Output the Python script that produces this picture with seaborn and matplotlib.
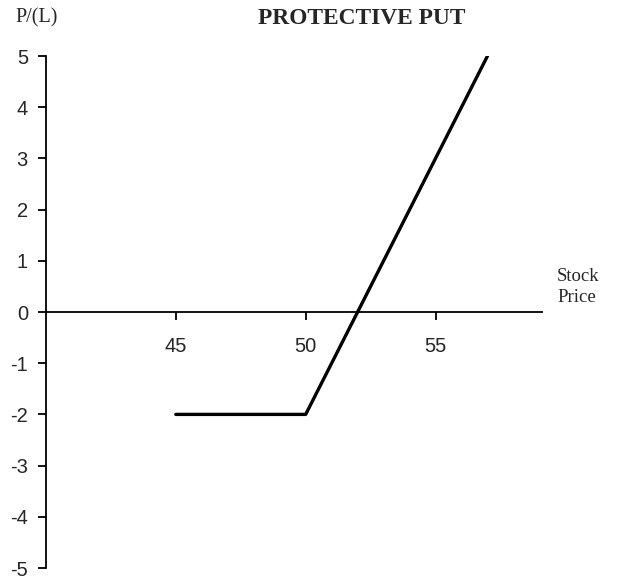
import matplotlib
matplotlib.use("Agg")
import matplotlib.pyplot as plt
import seaborn as sns
import pandas as pd

stock_price = [45, 50, 57]
profit_loss = [-2, -2, 5]
x_ticks = [45, 50, 55]
y_ticks = [5, 4, 3, 2, 1, 0, -1, -2, -3, -4, -5]

sns.set_theme(style="white")
plt.rcParams['font.family'] = ['Liberation Sans', 'DejaVu Sans']

df = pd.DataFrame({"Stock Price": stock_price, "P/L": profit_loss})

fig = plt.figure(figsize=(6.18, 5.79), dpi=100)
ax = fig.add_axes([46/618, 11/579, (542-46)/618, (568-56)/579])
sns.lineplot(data=df, x="Stock Price", y="P/L", ax=ax, color="black", linewidth=2.4, sort=False)

ax.set_xlim(40, 59.1)
ax.set_ylim(-5, 5)
ax.spines['right'].set_visible(False)
ax.spines['top'].set_visible(False)
ax.spines['bottom'].set_position(('data', 0))
ax.spines['left'].set_position(('data', 40))
for s in ['left', 'bottom']:
    ax.spines[s].set_color('black')
    ax.spines[s].set_linewidth(1.3)

ax.set_xticks(x_ticks)
ax.set_xticklabels([str(v) for v in x_ticks])
ax.set_yticks(y_ticks)
ax.set_yticklabels([str(v) for v in y_ticks])
ax.tick_params(axis='x', direction='out', length=6, width=1.3, color='black', labelsize=14.5, pad=12, bottom=True)
ax.tick_params(axis='y', direction='out', length=6, width=1.3, color='black', labelsize=14.5, pad=7, left=True)
ax.set_xlabel("")
ax.set_ylabel("")

fig.text(258/618, 1 - 18/579, "PROTECTIVE PUT", family='Liberation Serif', fontweight='bold',
         fontsize=16.8, ha='left', va='center')
fig.text(15/618, 1 - 18/579, "P/(L)", family='Liberation Serif', fontsize=14.5, ha='left', va='center')
fig.text(557/618, 1 - 287/579, "Stock\nPrice", family='Liberation Serif', fontsize=13.5,
         ha='left', va='center', linespacing=1.3)

fig.savefig("out.png", dpi=100)
